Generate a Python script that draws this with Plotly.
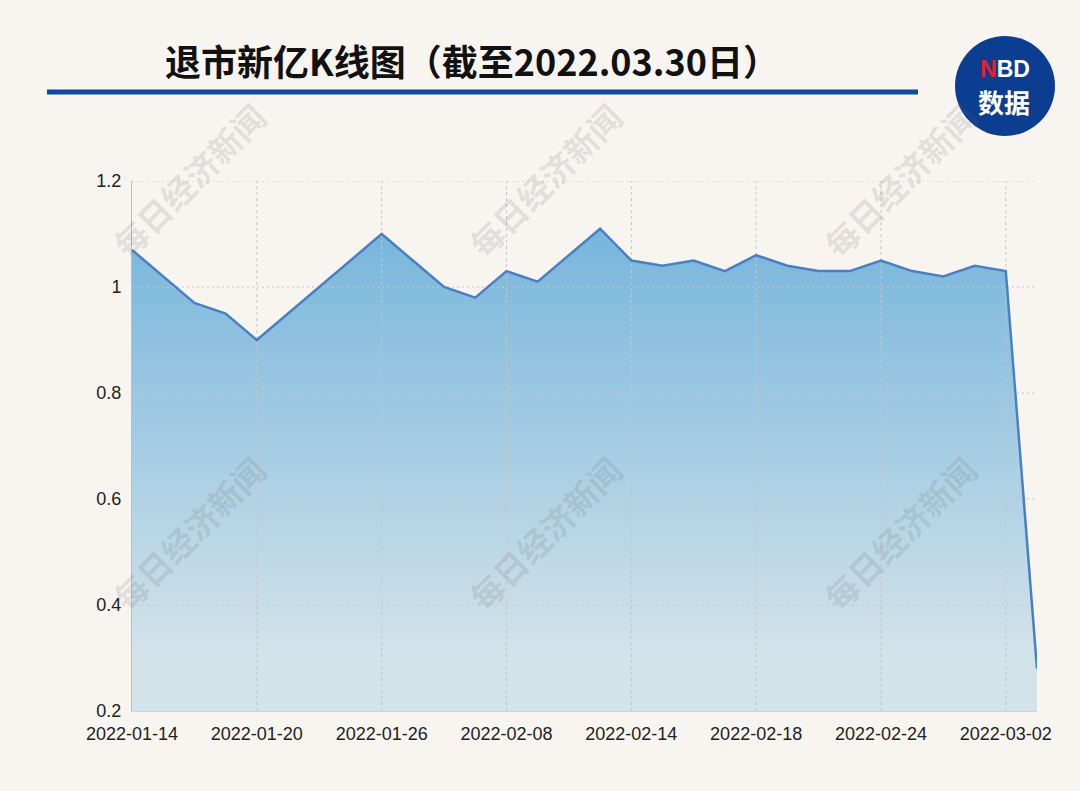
import plotly.graph_objects as go

# ---------------- data ----------------
dates = ["2022-01-14", "2022-01-17", "2022-01-18", "2022-01-19", "2022-01-20",
         "2022-01-21", "2022-01-24", "2022-01-25", "2022-01-26", "2022-01-27",
         "2022-01-28", "2022-02-07", "2022-02-08", "2022-02-09", "2022-02-10",
         "2022-02-11", "2022-02-14", "2022-02-15", "2022-02-16", "2022-02-17",
         "2022-02-18", "2022-02-21", "2022-02-22", "2022-02-23", "2022-02-24",
         "2022-02-25", "2022-02-28", "2022-03-01", "2022-03-02", "2022-03-03"]
prices = [1.07, 1.02, 0.97, 0.95, 0.90,
          0.95, 1.00, 1.05, 1.10, 1.05,
          1.00, 0.98, 1.03, 1.01, 1.06,
          1.11, 1.05, 1.04, 1.05, 1.03,
          1.06, 1.04, 1.03, 1.03, 1.05,
          1.03, 1.02, 1.04, 1.03, 0.28]
x_tick_labels = ["2022-01-14", "2022-01-20", "2022-01-26", "2022-02-08",
                 "2022-02-14", "2022-02-18", "2022-02-24", "2022-03-02"]
y_ticks = [0.2, 0.4, 0.6, 0.8, 1.0, 1.2]

title_text = "退市新亿K线图（截至2022.03.30日）"
watermark_text = "每日经济新闻"

# ---------------- layout geometry (pixels) ----------------
W, H = 1080, 791
L, R, T, B = 132, 1037, 181, 711
PW, PH = R - L, B - T


def fx(px):
    return (px - L) / PW


def fy(py):
    return (B - py) / PH


BG = "#f8f5f1"
LINE_C = "#4a80c2"
GRID_C = "#c3c6c8"
CJK = "Noto Sans CJK SC"

fig = go.Figure()

# area fill with vertical gradient
fig.add_trace(go.Scatter(
    x=dates, y=prices, mode="none", fill="tozeroy",
    fillgradient=dict(type="vertical",
                      colorscale=[[0, "#d3e3ea"], [1, "#76b5dc"]],
                      start=0.3, stop=1.12),
    hoverinfo="skip", showlegend=False))

# gridlines drawn above the fill (built from tick arrays)
for yv in y_ticks[1:]:
    fig.add_trace(go.Scatter(
        x=[dates[0], dates[-1]], y=[yv, yv], mode="lines",
        line=dict(color=GRID_C, width=1, dash="2px,3px"),
        hoverinfo="skip", showlegend=False))
for xv in x_tick_labels[1:]:
    fig.add_trace(go.Scatter(
        x=[xv, xv], y=[y_ticks[0], y_ticks[-1]], mode="lines",
        line=dict(color=GRID_C, width=1, dash="3px,3px"),
        hoverinfo="skip", showlegend=False))

# price line
fig.add_trace(go.Scatter(
    x=dates, y=prices, mode="lines",
    line=dict(color=LINE_C, width=2.5),
    hoverinfo="skip", showlegend=False))

annotations = []
# title
annotations.append(dict(
    text="<b>" + title_text + "</b>", x=fx(472), y=fy(60),
    xref="paper", yref="paper", xanchor="center", yanchor="middle",
    showarrow=False, font=dict(family=CJK, size=36, color="#111111")))

# watermarks
for cx in (189, 545, 900):
    for cy in (180, 533):
        annotations.append(dict(
            text=watermark_text, x=fx(cx), y=fy(cy),
            xref="paper", yref="paper", xanchor="center", yanchor="middle",
            textangle=-45, showarrow=False,
            font=dict(family=CJK, size=33, color="rgba(105,105,105,0.16)",
                      weight="bold")))

# logo texts
annotations.append(dict(
    text="<b><span style='color:#e8202a'>N</span>BD</b>",
    x=fx(1005), y=fy(69),
    xref="paper", yref="paper", xanchor="center", yanchor="middle",
    showarrow=False,
    font=dict(family="Liberation Sans", size=23, color="white")))
annotations.append(dict(
    text="<b>数据</b>", x=fx(1004), y=fy(102),
    xref="paper", yref="paper", xanchor="center", yanchor="middle",
    showarrow=False, font=dict(family=CJK, size=26, color="white")))

shapes = [
    # blue rule under the title
    dict(type="line", xref="paper", yref="paper",
         x0=fx(47), x1=fx(918), y0=fy(92), y1=fy(92),
         line=dict(color="#0d4a9f", width=5)),
    # logo circle
    dict(type="circle", xref="paper", yref="paper",
         x0=fx(955), x1=fx(1055), y0=fy(136), y1=fy(36),
         fillcolor="#0b3d91", line=dict(width=0), layer="below"),
]

fig.update_layout(
    width=W, height=H,
    margin=dict(l=L, r=W - R, t=T, b=H - B),
    paper_bgcolor=BG, plot_bgcolor=BG,
    showlegend=False,
    annotations=annotations, shapes=shapes,
    xaxis=dict(
        type="category", range=[0, len(dates) - 1],
        tickmode="array", tickvals=x_tick_labels, ticktext=x_tick_labels,
        showgrid=False, zeroline=False, showline=True,
        linecolor="#cfd3d6", linewidth=1, ticks="",
        ticklabelstandoff=6,
        tickfont=dict(family="Liberation Sans", size=18, color="#222222"),
    ),
    yaxis=dict(
        range=[y_ticks[0], y_ticks[-1]], tickmode="array", tickvals=y_ticks,
        showgrid=False, zeroline=False, showline=True,
        linecolor="#a9c3d6", linewidth=1, ticks="",
        ticklabelstandoff=6,
        tickfont=dict(family="Liberation Sans", size=18, color="#222222"),
    ),
)

fig.write_html("out.html", config={"displayModeBar": False},
               post_script="document.body.style.margin='0';")
